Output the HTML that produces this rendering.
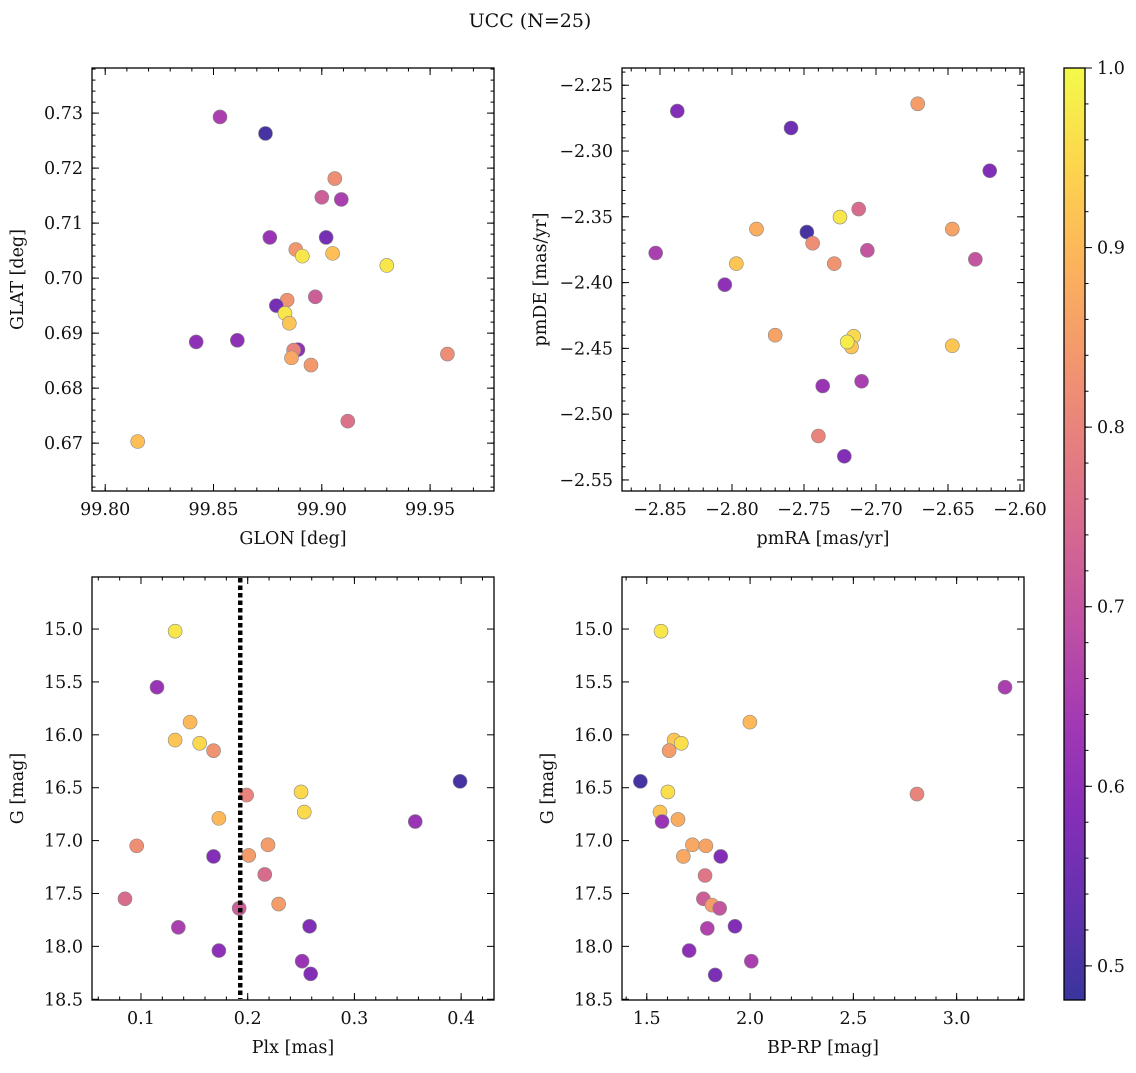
<!DOCTYPE html>
<html><head><meta charset="utf-8"><style>
body{margin:0;background:#fff;}
svg text{font-family:"DejaVu Serif","Liberation Serif",serif;fill:#111;}
</style></head><body>
<svg id="fig" width="1136" height="1068" xmlns="http://www.w3.org/2000/svg">
<text x="530" y="27" font-size="19" text-anchor="middle">UCC (N=25)</text>
</svg>
<script>
// ---- data ----
const glon=[99.853,99.874,99.906,99.900,99.909,99.876,99.902,99.888,99.891,99.905,99.930,99.897,99.884,99.879,99.883,99.885,99.842,99.861,99.889,99.887,99.886,99.895,99.958,99.912,99.815];
const glat=[0.7293,0.7263,0.7181,0.7147,0.7143,0.7074,0.7074,0.7052,0.7040,0.7045,0.7023,0.6966,0.6960,0.6950,0.6936,0.6918,0.6884,0.6887,0.6870,0.6869,0.6855,0.6842,0.6862,0.6740,0.6703];
const cTL=[0.65,0.50,0.82,0.72,0.65,0.62,0.56,0.84,0.97,0.91,0.97,0.72,0.83,0.56,0.97,0.92,0.60,0.60,0.60,0.80,0.87,0.84,0.82,0.76,0.91];
const pmra=[-2.838,-2.759,-2.671,-2.621,-2.853,-2.748,-2.744,-2.797,-2.783,-2.725,-2.712,-2.729,-2.706,-2.647,-2.631,-2.805,-2.770,-2.7155,-2.717,-2.720,-2.647,-2.737,-2.710,-2.740,-2.722];
const pmde=[-2.2696,-2.2825,-2.2641,-2.315,-2.3775,-2.3616,-2.3701,-2.3856,-2.3593,-2.3502,-2.3441,-2.3856,-2.3755,-2.3593,-2.3823,-2.4016,-2.44,-2.4408,-2.4489,-2.4451,-2.448,-2.4786,-2.475,-2.5166,-2.532];
const cTR=[0.58,0.55,0.85,0.58,0.65,0.50,0.82,0.92,0.88,0.97,0.75,0.83,0.70,0.86,0.70,0.60,0.86,0.95,0.92,0.98,0.92,0.62,0.65,0.80,0.58];
const plx=[0.132,0.115,0.146,0.132,0.155,0.168,0.399,0.199,0.250,0.253,0.173,0.357,0.096,0.219,0.168,0.201,0.216,0.229,0.085,0.192,0.135,0.258,0.173,0.251,0.259];
const gmag=[15.02,15.55,15.88,16.05,16.08,16.15,16.44,16.57,16.54,16.73,16.79,16.82,17.05,17.04,17.15,17.14,17.32,17.60,17.55,17.64,17.82,17.81,18.04,18.14,18.26];
const cBL=[0.97,0.62,0.90,0.92,0.95,0.83,0.50,0.80,0.95,0.95,0.90,0.62,0.82,0.85,0.58,0.85,0.75,0.85,0.75,0.72,0.65,0.58,0.60,0.62,0.58];
const bprp=[1.569,1.999,1.632,1.667,1.608,1.469,1.602,1.564,1.574,1.651,1.721,1.786,1.858,1.677,1.782,1.774,1.816,1.853,1.793,1.927,1.705,2.006,1.831,2.808,3.234];
const gmag2=[15.02,15.88,16.05,16.08,16.15,16.44,16.54,16.73,16.82,16.80,17.04,17.05,17.15,17.15,17.33,17.55,17.61,17.64,17.83,17.81,18.04,18.14,18.27,16.56,15.55];
const cBR=[0.97,0.90,0.92,0.96,0.85,0.50,0.96,0.92,0.62,0.88,0.87,0.86,0.58,0.87,0.77,0.72,0.85,0.70,0.66,0.58,0.60,0.65,0.57,0.80,0.65];
const plxLine=0.193;
const cbTicks=["0.5","0.6","0.7","0.8","0.9","1.0"];
const cmin=0.481, cmax=1.0;

const NS="http://www.w3.org/2000/svg";
const fig=document.getElementById('fig');
function mk(tag,attrs,parent){const e=document.createElementNS(NS,tag);for(const k in attrs)e.setAttribute(k,attrs[k]);(parent||fig).appendChild(e);return e;}
const stops=["#0d0887","#41049d","#6a00a8","#8f0da4","#b12a90","#cc4778","#e16462","#f2844b","#fca636","#fcce25","#f0f921"];
function hex(h){return [1,3,5].map(i=>parseInt(h.substr(i,2),16));}
function plasma(t){t=Math.max(0,Math.min(1,t));const f=t*10,i=Math.min(9,Math.floor(f)),u=f-i;const a=hex(stops[i]),b=hex(stops[i+1]);
 return a.map((v,k)=>Math.round((v+(b[k]-v)*u)*0.82+255*0.18));}
function col(v){const c=plasma((v-cmin)/(cmax-cmin));return `rgb(${c[0]},${c[1]},${c[2]})`;}

function panel(name,box,xl,yl,xt,xminor,yt,yminor,xfmt,yfmt,xlab,ylab,ylabOff,xs,ys,cs){
 const [L,T,R,B]=box;
 const sx=v=>L+(v-xl[0])/(xl[1]-xl[0])*(R-L);
 const sy=v=>B-(v-yl[0])/(yl[1]-yl[0])*(B-T);
 const g=mk('g',{});
 
 
 for(let i=0;i<xs.length;i++){
  const c=mk('circle',{cx:sx(xs[i]),cy:sy(ys[i]),r:7,fill:col(cs[i]),stroke:'#888','stroke-width':0.6},g);
  
  
 }
 const fr=mk('rect',{x:L,y:T,width:R-L,height:B-T,fill:'none',stroke:'#000','stroke-width':1.3},g);
 
 
 const eps=1e-9;
 for(let v=Math.ceil(xl[0]/xminor-eps)*xminor;v<=xl[1]+eps;v+=xminor){const x=sx(v);mk('line',{x1:x,x2:x,y1:B,y2:B-3.5,stroke:'#000'},g);mk('line',{x1:x,x2:x,y1:T,y2:T+3.5,stroke:'#000'},g);}
 for(let v=Math.ceil(yl[0]/yminor-eps)*yminor;v<=yl[1]+eps;v+=yminor){const y=sy(v);mk('line',{x1:L,x2:L+3.5,y1:y,y2:y,stroke:'#000'},g);mk('line',{x1:R,x2:R-3.5,y1:y,y2:y,stroke:'#000'},g);}
 xt.forEach(v=>{const x=sx(v);mk('line',{x1:x,x2:x,y1:B,y2:B-7,stroke:'#000'},g);mk('line',{x1:x,x2:x,y1:T,y2:T+7,stroke:'#000'},g);
  const t=mk('text',{x:x,y:B+24,'font-size':17.5,'text-anchor':'middle'},g);t.textContent=xfmt(v);
  });
 yt.forEach(v=>{const y=sy(v);mk('line',{x1:L,x2:L+7,y1:y,y2:y,stroke:'#000'},g);mk('line',{x1:R,x2:R-7,y1:y,y2:y,stroke:'#000'},g);
  const t=mk('text',{x:L-9,y:y+6,'font-size':17.5,'text-anchor':'end'},g);t.textContent=yfmt(v);
  });
 const xa=mk('text',{x:(L+R)/2,y:B+53,'font-size':17.5,'text-anchor':'middle'},g);xa.textContent=xlab;
 
 const yx=L-ylabOff;const ya=mk('text',{x:yx,y:(T+B)/2,'font-size':17.5,'text-anchor':'middle',transform:`rotate(-90 ${yx} ${(T+B)/2})`},g);ya.textContent=ylab;
 
 return {sx,sy,g};
}
const r=(a,b,s)=>{const o=[];for(let v=a;v<=b+1e-9;v+=s)o.push(+v.toFixed(6));return o;};
const neg=s=>s.replace('-','\u2212');
panel('panel-glon-glat',[92,68,494,491],[99.7939,99.9795],[0.6613,0.7382],r(99.80,99.95,0.05),0.01,r(0.67,0.73,0.01),0.002,
 v=>v.toFixed(2),v=>v.toFixed(2),'GLON [deg]','GLAT [deg]',69,glon,glat,cTL);
panel('panel-pm',[622,68,1024,491],[-2.8764,-2.5972],[-2.5584,-2.2369],r(-2.85,-2.60,0.05),0.01,r(-2.55,-2.25,0.05),0.01,
 v=>neg(v.toFixed(2)),v=>neg(v.toFixed(2)),'pmRA [mas/yr]','pmDE [mas/yr]',76,pmra,pmde,cTR);
const bl=panel('panel-plx-g',[92,577,494,1000],[0.0541,0.4308],[18.507,14.508],r(0.1,0.4,0.1),0.02,r(15,18.5,0.5),0.1,
 v=>v.toFixed(1),v=>v.toFixed(1),'Plx [mas]','G [mag]',69,plx,gmag,cBL);
const vl=mk('line',{x1:bl.sx(plxLine),x2:bl.sx(plxLine),y1:578,y2:999,stroke:'#000','stroke-width':4.5,'stroke-dasharray':'4.5 3'},bl.g);


panel('panel-color-mag',[622,577,1024,1000],[1.380,3.326],[18.507,14.508],r(1.5,3.0,0.5),0.1,r(15,18.5,0.5),0.1,
 v=>v.toFixed(1),v=>v.toFixed(1),'BP-RP [mag]','G [mag]',69,bprp,gmag2,cBR);
// colorbar
const cb=mk('g',{});


const defs=mk('defs',{},cb);const lg=mk('linearGradient',{id:'cbg',x1:0,y1:1,x2:0,y2:0},defs);
for(let i=0;i<=20;i++){const c=plasma(i/20);mk('stop',{offset:i/20,'stop-color':`rgb(${c})`},lg);}
const cT=68,cB=1000,cL=1064,cR=1085;
mk('rect',{x:cL,y:cT,width:cR-cL,height:cB-cT,fill:'url(#cbg)',stroke:'#000','stroke-width':1.3},cb);
const cy=v=>cB-(v-cmin)/(cmax-cmin)*(cB-cT);
for(let v=0.5;v<=1.0001;v+=0.02)mk('line',{x1:cR,x2:cR+3.5,y1:cy(v),y2:cy(v),stroke:'#000'},cb);
cbTicks.forEach(s=>{const y=cy(parseFloat(s));mk('line',{x1:cR,x2:cR+7,y1:y,y2:y,stroke:'#000'},cb);
 const t=mk('text',{x:cR+12,y:y+6,'font-size':17.5},cb);t.textContent=s;
 });
</script>
</body></html>
